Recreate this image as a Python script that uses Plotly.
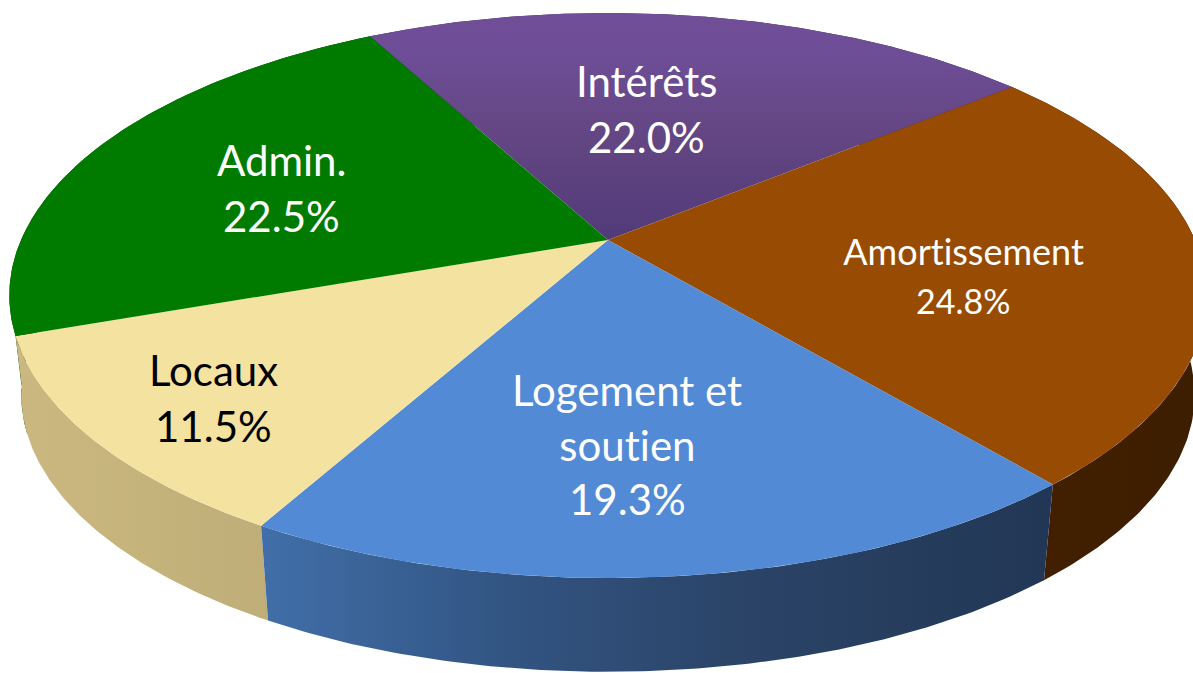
import numpy as np
import plotly.graph_objects as go

# --- data ---
categories = ["Intérêts", "Amortissement", "Logement et soutien", "Locaux", "Admin."]
values = [22.0, 24.8, 19.3, 11.5, 22.5]

# --- styles ---
top_colors = ["#6F4E97", "#984B03", "#528AD6", "#F4E2A0", "#007B00"]
side_scales = [
    [[0, "#3A2A55"], [1, "#3A2A55"]],
    [[0, "#421F00"], [1, "#3E1E00"]],
    [[0, "#416EA8"], [0.3, "#325583"], [0.6, "#2B4468"], [1, "#223755"]],
    [[0, "#CBB880"], [1, "#BFAE78"]],
    [[0, "#004000"], [1, "#004000"]],
]
label_lines = [["Intérêts"], ["Amortissement"], ["Logement et", "soutien"], ["Locaux"], ["Admin."]]
label_colors = ["white", "white", "white", "black", "white"]
label_sizes = [[42, 42], [36, 34], [42, 42, 42], [42, 42], [42, 42]]
label_x = [646, 963, 627, 213, 281]
label_y = [[81, 137], [251, 300], [390, 445, 499], [370, 426], [160, 216]]

# --- projection of the flat disc ---
CX, CY = 608, 240
A, B, K = 587, 271.6, 0.1965
START = -28.4
BOT_SCALE, BOT_DROP = 0.98, 100.5
LOCAUX_WALL_EXTRA = 10


def rim(t_deg):
    t = np.radians(t_deg)
    w = 1 + K * np.cos(t)
    return CX + A * np.sin(t) / w, CY - B * np.cos(t) / w


share = np.array(values) / sum(values) * 360
edges = START + np.concatenate([[0], np.cumsum(share)])

fig = go.Figure()


def arc(i, extra=0):
    return np.linspace(edges[i], edges[i + 1] + extra, 120)


# side walls, back to front
for i in [0, 4, 1, 3, 2]:
    x, y = rim(arc(i))
    xr, yr = rim(arc(i, LOCAUX_WALL_EXTRA if i == 3 else 0))
    xb = CX + (xr - CX) * BOT_SCALE
    yb = CY + (yr - CY) * BOT_SCALE + BOT_DROP
    px = np.concatenate([x, xb[::-1], x[:1]])
    py = np.concatenate([y, yb[::-1], y[:1]])
    x_lo, x_hi = (267, 1043) if i == 2 else (float(min(x.min(), xb.min())), float(max(x.max(), xb.max())))
    if i == 3:
        x_lo, x_hi = 20, 265
    fig.add_trace(go.Scatter(
        x=px, y=py, mode="lines", line=dict(width=0), fill="toself",
        fillgradient=dict(type="horizontal", colorscale=side_scales[i], start=x_lo, stop=x_hi),
        hoverinfo="skip", showlegend=False,
    ))

# top faces
for i in [0, 1, 2, 3, 4]:
    x, y = rim(arc(i))
    px = np.concatenate([[CX], x, [CX]])
    py = np.concatenate([[CY], y, [CY]])
    kw = dict(fillcolor=top_colors[i])
    if i == 0:
        kw = dict(fillgradient=dict(
            type="vertical",
            colorscale=[[0, "#523A78"], [0.5, "#654785"], [0.8, "#6D4D95"], [1, "#704F98"]],
            start=240, stop=13,
        ))
    fig.add_trace(go.Scatter(
        x=px, y=py, mode="lines", line=dict(width=0), fill="toself",
        hoverinfo="skip", showlegend=False, name=categories[i], **kw,
    ))

# labels
for i, lines in enumerate(label_lines):
    texts = lines + [f"{values[i]:.1f}%"]
    for txt, yy, sz in zip(texts, label_y[i], label_sizes[i]):
        fig.add_annotation(
            x=label_x[i], y=yy, text=txt, showarrow=False, xref="x", yref="y",
            xanchor="center", yanchor="middle",
            font=dict(family="Lato, Carlito, sans-serif", size=sz, color=label_colors[i]),
        )

fig.update_layout(
    width=1193, height=673, margin=dict(l=0, r=0, t=0, b=0),
    paper_bgcolor="white", plot_bgcolor="white", showlegend=False,
    xaxis=dict(range=[0, 1193], visible=False, fixedrange=True),
    yaxis=dict(range=[673, 0], visible=False, fixedrange=True),
)
post = (
    "document.body.style.margin='0';"
    "var s=document.createElement('style');"
    "s.textContent='svg text, svg tspan{font-variant-ligatures:none !important;"
    "font-feature-settings:\"liga\" 0, \"clig\" 0 !important;}';"
    "document.head.appendChild(s);"
)
fig.write_html("out.html", post_script=post, config={"displayModeBar": False})
